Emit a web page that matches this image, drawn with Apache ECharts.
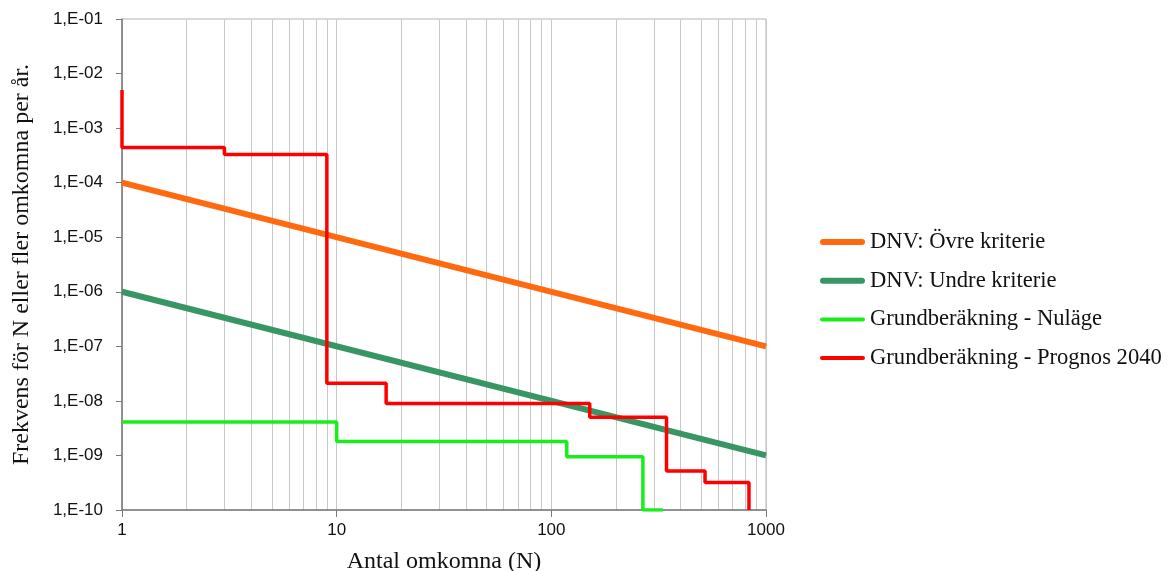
<!DOCTYPE html>
<html><head><meta charset="utf-8">
<script src="https://cdn.jsdelivr.net/npm/echarts@6/dist/echarts.min.js"></script>
<style>html,body{margin:0;padding:0;background:#fff}#c{width:1171px;height:571px}</style>
</head><body><div id="c"></div>
<script>
const seriesNames = ['DNV: Övre kriterie','DNV: Undre kriterie','Grundberäkning - Nuläge','Grundberäkning - Prognos 2040'];
const seriesColors = ['#ff6a10','#379664','#1aee1a','#ff0000'];
const dnvUpper = [[1,1e-4],[1000,1e-7]];
const dnvLower = [[1,1e-6],[1000,1e-9]];
const nulage = [[1,4.1e-9],[10,1.8e-9],[118,9.5e-10],[267,1e-10],[331,1e-10]];
const prognos = [[1,5e-3],[1,4.4e-4],[3,3.3e-4],[9,2.1e-8],[17,9e-9],[151,5e-9],[344,5.2e-10],[520,3.2e-10],[833,1e-10]];
const xMinorGrid = [2,3,4,5,6,7,8,9,20,30,40,50,60,70,80,90,200,300,400,500,600,700,800,900];
const xTickLabels = ['1','10','100','1000'];

const thickIcon = 'path://M3,0 L42,0 A3,3 0 0 1 42,6 L3,6 A3,3 0 0 1 3,0 Z';
const thinIcon = 'path://M0,0 L0.01,0 L0.01,0.01 Z M2,1 L43,1 A2,2 0 0 1 43,5 L2,5 A2,2 0 0 1 2,1 Z M45,6 L44.99,6 L44.99,5.99 Z';

const chart = echarts.init(document.getElementById('c'), null, {renderer:'canvas'});
const serif = '"Liberation Serif","Times New Roman",serif';
const sans = '"Liberation Sans",Arial,sans-serif';
chart.setOption({
  animation:false,
  backgroundColor:'#fff',
  grid:{left:122,right:405,top:19,bottom:61,show:true,borderColor:'#b4b4b4',borderWidth:1,
        containLabel:false, outerBoundsMode:'none'},
  legend:{
    orient:'vertical', left:815, top:225, itemGap:14.7, itemWidth:45, itemHeight:6,
    textStyle:{fontFamily:serif,fontSize:22.6,lineHeight:24,color:'#111'},
    data:seriesNames.map((n,i)=>({name:n, icon: i<2?thickIcon:thinIcon, itemStyle:{color:seriesColors[i]}}))
  },
  xAxis:{
    type:'log', logBase:10, min:1, max:1000,
    name:'Antal omkomna (N)', nameLocation:'middle', nameGap:40,
    nameTextStyle:{fontFamily:serif,fontSize:24,color:'#111'},
    axisLine:{lineStyle:{color:'#7a7a7a',width:1.5}},
    axisTick:{show:true,length:7,lineStyle:{color:'#7a7a7a'}},
    axisLabel:{fontFamily:sans,fontSize:17,color:'#111',margin:12,
      formatter:function(v){const i=Math.round(Math.log10(v));return xTickLabels[i]||'';}},
    splitLine:{show:true,lineStyle:{color:'#c8c8c8',width:1}},
    minorTick:{show:false}
  },
  yAxis:{
    type:'log', logBase:10, min:1e-10, max:1e-1,
    name:'Frekvens för N eller fler omkomna per år.', nameLocation:'middle', nameGap:88,
    nameTextStyle:{fontFamily:serif,fontSize:24,color:'#111'},
    axisLine:{show:true,lineStyle:{color:'#7a7a7a',width:1.5}},
    axisTick:{show:true,length:6,lineStyle:{color:'#7a7a7a'}},
    axisLabel:{fontFamily:sans,fontSize:17,color:'#111',margin:19,
      formatter:function(v){const e=Math.round(-Math.log10(v));return '1,E-'+(e<10?'0'+e:e);}},
    splitLine:{show:false}
  },
  series:[
    {name:'grid', type:'line', data:[], silent:true, z:0,
      markLine:{silent:true,symbol:'none',label:{show:false},z:0,
        lineStyle:{color:'#c8c8c8',width:1,type:'solid'},
        data:xMinorGrid.map(v=>({xAxis:v}))}},
    {name:seriesNames[0], type:'line', data:dnvUpper, showSymbol:false, symbol:'none', z:3,
      lineStyle:{color:seriesColors[0],width:6}, itemStyle:{color:seriesColors[0]}},
    {name:seriesNames[1], type:'line', data:dnvLower, showSymbol:false, symbol:'none', z:3,
      lineStyle:{color:seriesColors[1],width:6}, itemStyle:{color:seriesColors[1]}},
    {name:seriesNames[2], type:'line', step:'end', data:nulage, showSymbol:false, symbol:'none', z:4,
      lineStyle:{color:seriesColors[2],width:3.5}, itemStyle:{color:seriesColors[2]}},
    {name:seriesNames[3], type:'line', step:'end', data:prognos, showSymbol:false, symbol:'none', z:5,
      lineStyle:{color:seriesColors[3],width:3.5}, itemStyle:{color:seriesColors[3]}}
  ]
});
</script></body></html>
